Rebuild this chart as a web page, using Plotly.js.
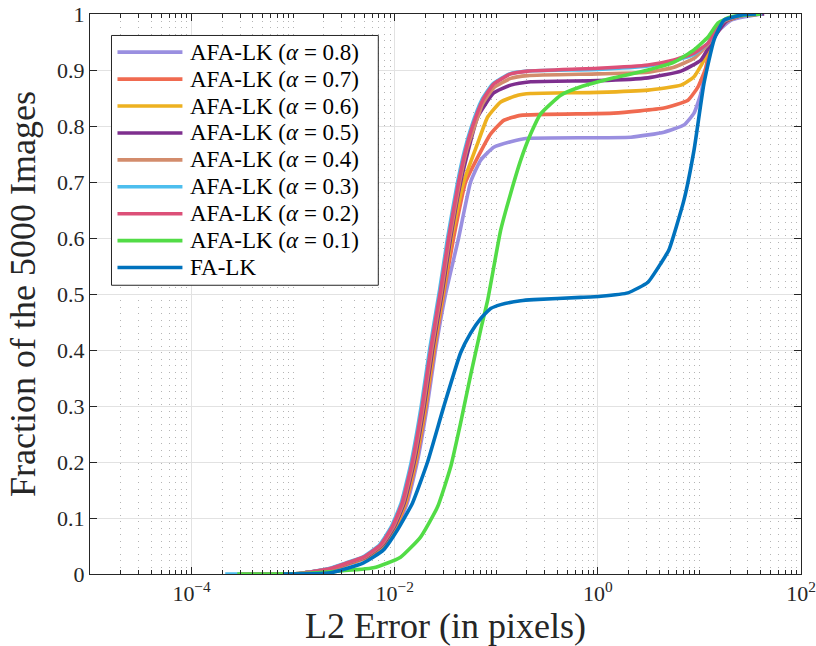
<!DOCTYPE html>
<html>
<head>
<meta charset="utf-8">
<script src="https://cdn.plot.ly/plotly-3.0.1.min.js"></script>
<style>
html,body{margin:0;padding:0;background:#fff;}
#chart{width:816px;height:646px;}
</style>
</head>
<body>
<div id="chart"></div>
<script>
// ---- data (x = L2 error in pixels, y = fraction of images) ----
var names = ["AFA-LK (<i>α</i> = 0.8)", "AFA-LK (<i>α</i> = 0.7)", "AFA-LK (<i>α</i> = 0.6)",
  "AFA-LK (<i>α</i> = 0.5)", "AFA-LK (<i>α</i> = 0.4)", "AFA-LK (<i>α</i> = 0.3)",
  "AFA-LK (<i>α</i> = 0.2)", "AFA-LK (<i>α</i> = 0.1)", "FA-LK"];
var colors = ["#9a8fe0", "#f06a50", "#edb120", "#7e2f8e", "#d38c6c", "#4dbeee", "#dc5078", "#52dc46", "#0072bd"];

var x08 = [3.784e-4, 1.178e-3, 2.61e-3, 3.83e-3, 5.52e-3, 8.11e-3, 1.058e-2, 1.328e-2, 1.667e-2, 2.09e-2, 2.52e-2, 3.170e-2, 4.257e-2, 5.589e-2, 7.017e-2, 9.428e-2, 0.1387, 0.2040, 2.116, 4.476, 7.050, 8.846, 10.37, 11.62, 13.62, 20.50, 40.5];
var y08 = [0, 0.001, 0.010, 0.020, 0.030, 0.052, 0.084, 0.127, 0.200, 0.300, 0.400, 0.500, 0.600, 0.700, 0.739, 0.762, 0.772, 0.778, 0.780, 0.789, 0.802, 0.823, 0.859, 0.905, 0.959, 0.989, 1.0];

var x07 = [3.784e-4, 1.178e-3, 2.54e-3, 3.73e-3, 5.37e-3, 7.90e-3, 1.030e-2, 1.293e-2, 1.622e-2, 2.035e-2, 2.457e-2, 3.030e-2, 3.801e-2, 4.992e-2, 6.555e-2, 8.807e-2, 0.1183, 0.1740, 1.438, 4.476, 7.722, 9.687, 11.62, 13.02, 14.92, 18.30, 25.72, 40.5];
var y07 = [0, 0.001, 0.010, 0.020, 0.030, 0.052, 0.084, 0.127, 0.200, 0.300, 0.400, 0.500, 0.600, 0.700, 0.744, 0.786, 0.810, 0.819, 0.823, 0.832, 0.846, 0.870, 0.905, 0.948, 0.966, 0.987, 0.997, 1.0];

var x06 = [3.784e-4, 1.178e-3, 2.49e-3, 3.66e-3, 5.27e-3, 7.75e-3, 1.011e-2, 1.269e-2, 1.592e-2, 1.998e-2, 2.41e-2, 3.03e-2, 3.63e-2, 4.771e-2, 6.555e-2, 8.225e-2, 0.1105, 0.1626, 0.2184, 1.0, 3.112, 6.585, 8.846, 11.10, 13.02, 14.92, 18.30, 25.72, 40.5];
var y06 = [0, 0.001, 0.010, 0.020, 0.030, 0.052, 0.084, 0.127, 0.200, 0.300, 0.400, 0.507, 0.600, 0.700, 0.769, 0.816, 0.843, 0.855, 0.858, 0.860, 0.864, 0.873, 0.888, 0.918, 0.954, 0.970, 0.987, 0.997, 1.0];

var x05 = [3.784e-4, 1.178e-3, 2.44e-3, 3.58e-3, 5.16e-3, 7.58e-3, 9.89e-3, 1.242e-2, 1.558e-2, 1.955e-2, 2.36e-2, 2.96e-2, 3.55e-2, 4.456e-2, 6.555e-2, 9.428e-2, 0.1387, 0.2184, 1.0, 3.112, 6.585, 10.37, 13.02, 14.92, 18.30, 25.72, 43.4];
var y05 = [0, 0.001, 0.010, 0.020, 0.030, 0.052, 0.084, 0.127, 0.200, 0.300, 0.400, 0.507, 0.600, 0.700, 0.816, 0.859, 0.873, 0.879, 0.881, 0.886, 0.898, 0.918, 0.948, 0.966, 0.987, 0.997, 1.0];

var x04 = [3.784e-4, 1.178e-3, 2.38e-3, 3.50e-3, 5.04e-3, 7.41e-3, 9.66e-3, 1.213e-2, 1.522e-2, 1.910e-2, 2.306e-2, 2.895e-2, 3.472e-2, 4.355e-2, 5.11e-2, 6.124e-2, 7.343e-2, 9.428e-2, 0.1387, 0.2040, 1.0, 3.112, 5.617, 8.846, 12.16, 13.93, 17.48, 25.72, 40.5];
var y04 = [0, 0.001, 0.010, 0.020, 0.030, 0.052, 0.084, 0.127, 0.200, 0.300, 0.400, 0.507, 0.600, 0.700, 0.757, 0.800, 0.840, 0.868, 0.885, 0.890, 0.893, 0.896, 0.905, 0.921, 0.946, 0.964, 0.987, 0.997, 1.0];

var x03 = [2.145e-4, 1.178e-3, 2.25e-3, 3.34e-3, 4.81e-3, 7.08e-3, 9.23e-3, 1.159e-2, 1.454e-2, 1.824e-2, 2.202e-2, 2.765e-2, 3.316e-2, 4.16e-2, 4.88e-2, 5.72e-2, 7.17e-2, 9.21e-2, 0.1355, 0.1995, 1.0, 3.112, 5.617, 8.846, 12.16, 13.93, 17.48, 25.72, 41.5];
var y03 = [0, 0.001, 0.010, 0.020, 0.030, 0.052, 0.084, 0.127, 0.200, 0.300, 0.400, 0.507, 0.600, 0.700, 0.757, 0.800, 0.846, 0.875, 0.893, 0.898, 0.901, 0.907, 0.916, 0.928, 0.948, 0.966, 0.989, 0.998, 1.0];

var x02 = [3.015e-4, 1.178e-3, 2.327e-3, 3.422e-3, 4.925e-3, 7.244e-3, 9.447e-3, 1.186e-2, 1.488e-2, 1.867e-2, 2.254e-2, 2.830e-2, 3.394e-2, 4.257e-2, 4.992e-2, 5.851e-2, 7.343e-2, 9.428e-2, 0.1387, 0.2040, 1.0, 3.112, 5.617, 8.846, 12.16, 13.93, 17.48, 25.72, 40.5];
var y02 = [0, 0.001, 0.010, 0.020, 0.030, 0.052, 0.084, 0.127, 0.200, 0.300, 0.400, 0.507, 0.600, 0.700, 0.757, 0.800, 0.846, 0.875, 0.893, 0.898, 0.903, 0.909, 0.918, 0.930, 0.948, 0.966, 0.989, 0.998, 1.0];

var x01 = [2.817e-4, 1.178e-3, 6.178e-3, 1.141e-2, 1.797e-2, 2.643e-2, 3.551e-2, 4.456e-2, 5.589e-2, 7.017e-2, 8.225e-2, 0.1105, 0.1387, 0.1740, 0.2184, 0.2741, 0.4315, 0.6796, 1.438, 3.112, 5.617, 8.846, 12.16, 15.26, 20.50, 40.5];
var y01 = [0, 0.001, 0.011, 0.030, 0.066, 0.120, 0.191, 0.270, 0.355, 0.436, 0.489, 0.614, 0.680, 0.739, 0.786, 0.822, 0.855, 0.870, 0.886, 0.900, 0.914, 0.936, 0.959, 0.984, 0.995, 1.0];

var xFA = [8.003e-4, 2.327e-3, 4.925e-3, 7.754e-3, 1.0656e-2, 1.498e-2, 2.106e-2, 3.030e-2, 4.456e-2, 5.589e-2, 7.017e-2, 8.807e-2, 0.1105, 0.1740, 0.2338, 0.6796, 1.071, 1.976, 3.112, 4.181, 5.015, 7.050, 8.846, 11.10, 13.93, 17.48, 25.72, 36.0];
var yFA = [0, 0.002, 0.020, 0.043, 0.079, 0.127, 0.200, 0.298, 0.395, 0.430, 0.456, 0.474, 0.481, 0.488, 0.490, 0.494, 0.496, 0.502, 0.521, 0.555, 0.579, 0.668, 0.757, 0.877, 0.954, 0.989, 0.998, 1.0];

var xTickVals = [1e-4, 1e-2, 1, 100];
var xTickText = ["10<sup>−4</sup>", "10<sup>−2</sup>", "10<sup>0</sup>", "10<sup>2</sup>"];
var yTickVals = [0, 0.1, 0.2, 0.3, 0.4, 0.5, 0.6, 0.7, 0.8, 0.9, 1];
var yTickText = ["0", "0.1", "0.2", "0.3", "0.4", "0.5", "0.6", "0.7", "0.8", "0.9", "1"];

// ---- build traces ----
var xs = [x08, x07, x06, x05, x04, x03, x02, x01, xFA];
var ys = [y08, y07, y06, y05, y04, y03, y02, y01, yFA];
var traces = [];
for (var i = 0; i < names.length; i++) {
  traces.push({
    type: 'scatter', mode: 'lines', name: names[i],
    x: xs[i], y: ys[i], showlegend: false,
    line: {color: colors[i], width: 3.6, shape: 'spline', smoothing: 0.45}
  });
}

// minor tick positions on the log axis (all decade multiples except labelled ones)
var minorVals = [];
for (var e = -5; e <= 1; e++) {
  for (var m = 1; m <= 9; m++) {
    if (m === 1 && (e === -4 || e === -2 || e === 0)) continue;
    minorVals.push(m * Math.pow(10, e));
  }
}

var serif = '"Liberation Serif", "Times New Roman", serif';
var axisCol = "#262626";

// ---- legend box (MATLAB-style, drawn in paper coordinates of the plot area) ----
var W = 711.5, H = 560.5, L = 89.5, B = 574;   // plot-area geometry in px
function px2x(p) { return (p - L) / W; }
function py2y(p) { return (B - p) / H; }
var shapes = [{
  type: 'rect', xref: 'paper', yref: 'paper', layer: 'above',
  x0: px2x(111), x1: px2x(378), y0: py2y(285), y1: py2y(35),
  line: {color: axisCol, width: 1}, fillcolor: '#ffffff'
}];
var annotations = [];
for (var k = 0; k < names.length; k++) {
  var ry = py2y(51.7 + 26.95 * k);
  shapes.push({
    type: 'line', xref: 'paper', yref: 'paper', layer: 'above',
    x0: px2x(117), x1: px2x(182), y0: ry, y1: ry,
    line: {color: colors[k], width: 3.6}
  });
  annotations.push({
    xref: 'paper', yref: 'paper', x: px2x(188), y: ry,
    xanchor: 'left', yanchor: 'middle', showarrow: false,
    text: names[k], font: {family: serif, size: 23, color: '#000000'}
  });
}

var layout = {
  width: 816, height: 646,
  margin: {l: L, r: 15, t: 13.5, b: 72, pad: 0},
  paper_bgcolor: '#ffffff', plot_bgcolor: '#ffffff',
  font: {family: serif, color: axisCol, size: 22},
  showlegend: false,
  shapes: shapes,
  annotations: annotations,
  xaxis: {
    type: 'log', range: [-5, 2],
    tickmode: 'array', tickvals: xTickVals, ticktext: xTickText,
    ticks: 'inside', ticklen: 7, tickwidth: 1, tickcolor: axisCol,
    showline: true, linecolor: axisCol, linewidth: 1, mirror: 'allticks',
    showgrid: true, gridcolor: '#e2e2e2', gridwidth: 1,
    zeroline: false,
    tickfont: {family: serif, size: 22, color: axisCol},
    minor: {tickmode: 'array', tickvals: minorVals, ticks: 'inside', ticklen: 4, tickcolor: axisCol,
            showgrid: true, gridcolor: '#b4b4b4', griddash: '1px,5.5px', gridwidth: 1},
    title: {text: 'L2 Error (in pixels)', font: {family: serif, size: 36, color: axisCol}, standoff: 6},
    automargin: false
  },
  yaxis: {
    range: [0, 1],
    tickmode: 'array', tickvals: yTickVals, ticktext: yTickText,
    ticks: 'inside', ticklen: 7, tickwidth: 1, tickcolor: axisCol,
    showline: true, linecolor: axisCol, linewidth: 1, mirror: 'allticks',
    showgrid: true, gridcolor: '#e2e2e2', gridwidth: 1,
    zeroline: false,
    tickfont: {family: serif, size: 22, color: axisCol},
    title: {text: 'Fraction of the 5000 Images', font: {family: serif, size: 36, color: axisCol}, standoff: 10},
    automargin: false
  }
};

Plotly.newPlot('chart', traces, layout, {displayModeBar: false, staticPlot: true});
</script>
</body>
</html>
